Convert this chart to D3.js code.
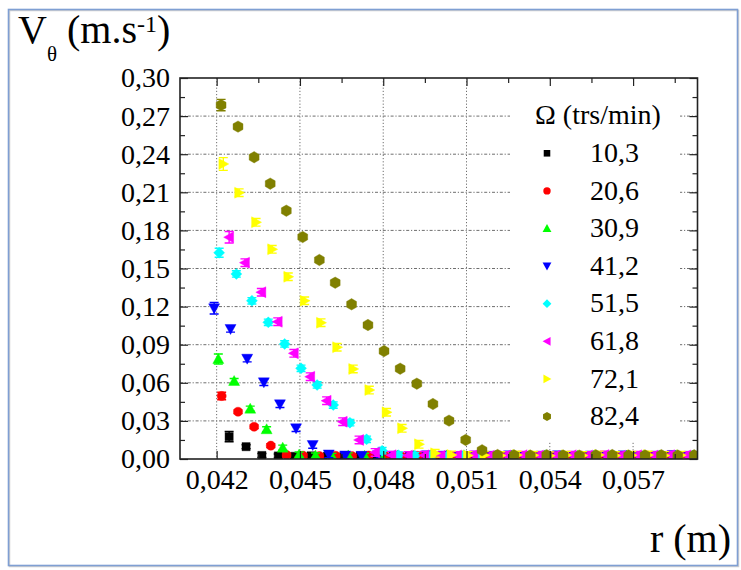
<!DOCTYPE html>
<html>
<head>
<meta charset="utf-8">
<script src="https://cdn.jsdelivr.net/npm/d3@7"></script>
<style>
  html, body { margin: 0; padding: 0; background: #ffffff; }
  svg { display: block; }
</style>
</head>
<body>
<svg id="chart" width="741" height="570"></svg>
<script>
// ---------------- DATA ----------------
const seriesLabels = ["10,3", "20,6", "30,9", "41,2", "51,5", "61,8", "72,1", "82,4"];
const seriesColors = ["#000000", "#ff0000", "#00ff00", "#0000ff", "#00ffff", "#ff00ff", "#ffff00", "#808000"];
const seriesShapes = ["square", "circle", "triangleUp", "triangleDown", "diamond", "triangleLeft", "triangleRight", "hexagon"];

const r_10_3 = [0.04245, 0.04306, 0.04363, 0.04422, 0.04481, 0.04540, 0.04599, 0.04658, 0.04717, 0.04776, 0.04835, 0.04894, 0.04953, 0.05012, 0.05071, 0.05130, 0.05189, 0.05248, 0.05307, 0.05366, 0.05425, 0.05484, 0.05543, 0.05602, 0.05661, 0.05720, 0.05779, 0.05838, 0.05897];
const v_10_3 = [0.0176, 0.0097, 0.0028, 0.0024, 0.0021, 0.0025, 0.0022, 0.0020, 0.0024, 0.0023, 0.0021, 0.0025, 0.0022, 0.0024, 0.0020, 0.0023, 0.0025, 0.0021, 0.0022, 0.0024, 0.0023, 0.0020, 0.0025, 0.0022, 0.0021, 0.0024, 0.0023, 0.0022, 0.0024];

const r_20_6 = [0.04218, 0.04277, 0.04335, 0.04395, 0.04452, 0.04511, 0.04570, 0.04629, 0.04688, 0.04747, 0.04806, 0.04865, 0.04924, 0.04983, 0.05042, 0.05101, 0.05160, 0.05219, 0.05278, 0.05337, 0.05396, 0.05455, 0.05514, 0.05573, 0.05632, 0.05691, 0.05750, 0.05809, 0.05868];
const v_20_6 = [0.0496, 0.0372, 0.0254, 0.0105, 0.0031, 0.0026, 0.0023, 0.0025, 0.0022, 0.0027, 0.0024, 0.0021, 0.0025, 0.0023, 0.0026, 0.0022, 0.0024, 0.0027, 0.0023, 0.0025, 0.0021, 0.0024, 0.0026, 0.0022, 0.0025, 0.0023, 0.0027, 0.0024, 0.0022];

const r_30_9 = [0.04206, 0.04263, 0.04321, 0.04380, 0.04438, 0.04497, 0.04556, 0.04615, 0.04674, 0.04733, 0.04792, 0.04851, 0.04910, 0.04969, 0.05028, 0.05087, 0.05146, 0.05205, 0.05264, 0.05323, 0.05382, 0.05441, 0.05500, 0.05559, 0.05618, 0.05677, 0.05736, 0.05795, 0.05854, 0.05913];
const v_30_9 = [0.0787, 0.0614, 0.0396, 0.0234, 0.0089, 0.0035, 0.0027, 0.0024, 0.0028, 0.0025, 0.0023, 0.0027, 0.0026, 0.0024, 0.0028, 0.0022, 0.0026, 0.0025, 0.0027, 0.0023, 0.0028, 0.0024, 0.0026, 0.0025, 0.0022, 0.0027, 0.0025, 0.0028, 0.0024, 0.0026];

const r_41_2 = [0.04191, 0.04250, 0.04310, 0.04370, 0.04428, 0.04486, 0.04546, 0.04604, 0.04663, 0.04722, 0.04781, 0.04840, 0.04899, 0.04958, 0.05017, 0.05076, 0.05135, 0.05194, 0.05253, 0.05312, 0.05371, 0.05430, 0.05489, 0.05548, 0.05607, 0.05666, 0.05725, 0.05784, 0.05843, 0.05902];
const v_41_2 = [0.1187, 0.1024, 0.0790, 0.0604, 0.0431, 0.0242, 0.0110, 0.0036, 0.0028, 0.0025, 0.0029, 0.0026, 0.0024, 0.0030, 0.0027, 0.0025, 0.0028, 0.0026, 0.0029, 0.0024, 0.0027, 0.0030, 0.0025, 0.0028, 0.0026, 0.0029, 0.0024, 0.0027, 0.0032, 0.0026];

const r_51_5 = [0.04209, 0.04271, 0.04327, 0.04386, 0.04445, 0.04504, 0.04562, 0.04620, 0.04680, 0.04740, 0.04796, 0.04855, 0.04914, 0.04973, 0.05032, 0.05091, 0.05150, 0.05209, 0.05268, 0.05327, 0.05386, 0.05445, 0.05504, 0.05563, 0.05622, 0.05681, 0.05740, 0.05799, 0.05858, 0.05917];
const v_51_5 = [0.1624, 0.1457, 0.1246, 0.1076, 0.0906, 0.0714, 0.0583, 0.0425, 0.0286, 0.0155, 0.0065, 0.0030, 0.0026, 0.0028, 0.0025, 0.0029, 0.0027, 0.0024, 0.0028, 0.0026, 0.0030, 0.0025, 0.0027, 0.0029, 0.0026, 0.0028, 0.0024, 0.0027, 0.0029, 0.0026];

const r_61_8 = [0.04245, 0.04302, 0.04361, 0.04420, 0.04478, 0.04537, 0.04596, 0.04654, 0.04713, 0.04771, 0.04830, 0.04889, 0.04948, 0.05007, 0.05066, 0.05125, 0.05184, 0.05243, 0.05302, 0.05361, 0.05420, 0.05479, 0.05538, 0.05597, 0.05656, 0.05715, 0.05774, 0.05833, 0.05892];
const v_61_8 = [0.1746, 0.1546, 0.1313, 0.1081, 0.0832, 0.0648, 0.0459, 0.0294, 0.0150, 0.0052, 0.0030, 0.0027, 0.0029, 0.0025, 0.0028, 0.0031, 0.0026, 0.0028, 0.0030, 0.0027, 0.0025, 0.0029, 0.0028, 0.0031, 0.0026, 0.0029, 0.0027, 0.0030, 0.0028];

const r_72_1 = [0.04224, 0.04281, 0.04342, 0.04400, 0.04458, 0.04517, 0.04576, 0.04634, 0.04692, 0.04750, 0.04812, 0.04868, 0.04929, 0.04987, 0.05046, 0.05105, 0.05164, 0.05223, 0.05282, 0.05341, 0.05400, 0.05459, 0.05518, 0.05577, 0.05636, 0.05695, 0.05754, 0.05813, 0.05872];
const v_72_1 = [0.2323, 0.2097, 0.1864, 0.1651, 0.1435, 0.1246, 0.1073, 0.0880, 0.0709, 0.0543, 0.0368, 0.0242, 0.0116, 0.0045, 0.0032, 0.0028, 0.0030, 0.0027, 0.0031, 0.0029, 0.0026, 0.0030, 0.0028, 0.0032, 0.0027, 0.0029, 0.0031, 0.0028, 0.0030];

const r_82_4 = [0.04216, 0.04277, 0.04335, 0.04393, 0.04451, 0.04510, 0.04570, 0.04627, 0.04686, 0.04745, 0.04803, 0.04861, 0.04921, 0.04979, 0.05037, 0.05097, 0.05156, 0.05212, 0.05271, 0.05330, 0.05389, 0.05448, 0.05507, 0.05566, 0.05625, 0.05684, 0.05743, 0.05802, 0.05861, 0.05920];
const v_82_4 = [0.2787, 0.2617, 0.2376, 0.2168, 0.1955, 0.1748, 0.1567, 0.1388, 0.1218, 0.1055, 0.0850, 0.0711, 0.0593, 0.0433, 0.0302, 0.0150, 0.0069, 0.0031, 0.0029, 0.0027, 0.0030, 0.0028, 0.0026, 0.0029, 0.0031, 0.0027, 0.0028, 0.0030, 0.0027, 0.0029];

// error bars: first (inner-most) point and the remaining points
const errFirst = [0.0040, 0.0030, 0.0040, 0.0045, 0.0035, 0.0045, 0.0050, 0.0045];
const errRest  = [0.0015, 0.0015, 0.0020, 0.0025, 0.0025, 0.0030, 0.0030, 0.0015];

const xTickValues = [0.042, 0.045, 0.048, 0.051, 0.054, 0.057];
const xMinorValues = [0.0435, 0.0465, 0.0495, 0.0525, 0.0555, 0.0585];
const yTickValues = [0.00, 0.03, 0.06, 0.09, 0.12, 0.15, 0.18, 0.21, 0.24, 0.27, 0.30];
const yMinorValues = [0.015, 0.045, 0.075, 0.105, 0.135, 0.165, 0.195, 0.225, 0.255, 0.285];

const legendTitle = "Ω (trs/min)";
const xAxisTitle = "r (m)";

const rArrays = [r_10_3, r_20_6, r_30_9, r_41_2, r_51_5, r_61_8, r_72_1, r_82_4];
const vArrays = [v_10_3, v_20_6, v_30_9, v_41_2, v_51_5, v_61_8, v_72_1, v_82_4];

// ---------------- LAYOUT ----------------
const FONT = "'Liberation Serif'";
const plot = { left: 180, right: 697.5, top: 78, bottom: 459 };

const svg = d3.select("#chart");

const x = d3.scaleLinear().domain([0.04068, 0.05932]).range([plot.left, plot.right]);
const y = d3.scaleLinear().domain([0, 0.30]).range([plot.bottom, plot.top]);

const commaFmt = f => d => d3.format(f)(d).replace(".", ",");

// outer frame (document border)
svg.append("rect").attr("x", 9.5).attr("y", 10.5).attr("width", 729).attr("height", 556)
  .attr("fill", "none").attr("stroke", "#d0d0d0").attr("stroke-width", 1.5);
svg.append("rect").attr("x", 8.5).attr("y", 9.5).attr("width", 729).attr("height", 556)
  .attr("fill", "none").attr("stroke", "#7f9fd3").attr("stroke-width", 1.6);

// clip
svg.append("defs").append("clipPath").attr("id", "plotClip")
  .append("rect").attr("x", plot.left).attr("y", plot.top)
  .attr("width", plot.right - plot.left).attr("height", plot.bottom - plot.top);

// grid
const grid = svg.append("g");
grid.selectAll("line.vg").data(xTickValues).join("line")
  .attr("x1", d => x(d)).attr("x2", d => x(d))
  .attr("y1", plot.top).attr("y2", plot.bottom)
  .attr("stroke", "#6e6e6e").attr("stroke-width", 1).attr("stroke-dasharray", "1.2,2");
grid.selectAll("line.hg").data(yTickValues.filter(d => d > 0 && d < 0.3)).join("line")
  .attr("x1", plot.left).attr("x2", plot.right)
  .attr("y1", d => y(d)).attr("y2", d => y(d))
  .attr("stroke", "#6e6e6e").attr("stroke-width", 1).attr("stroke-dasharray", "3,1.8,1.2,1.8");

// legend background
svg.append("rect").attr("x", 510).attr("y", 80).attr("width", 170).attr("height", 361).attr("fill", "#ffffff");

// symbol paths
function shapePath(type, s) {
  const h = s / 2;
  switch (type) {
    case "square": return `M${-h},${-h}H${h}V${h}H${-h}Z`;
    case "circle": return `M${h},0A${h},${h} 0 1,1 ${-h},0A${h},${h} 0 1,1 ${h},0Z`;
    case "triangleUp": return `M0,${-h * 1.05}L${h * 1.05},${h * 0.85}L${-h * 1.05},${h * 0.85}Z`;
    case "triangleDown": return `M0,${h * 1.05}L${h * 1.05},${-h * 0.85}L${-h * 1.05},${-h * 0.85}Z`;
    case "triangleLeft": return `M${-h * 1.05},0L${h * 0.85},${-h * 1.05}L${h * 0.85},${h * 1.05}Z`;
    case "triangleRight": return `M${h * 1.05},0L${-h * 0.85},${-h * 1.05}L${-h * 0.85},${h * 1.05}Z`;
    case "diamond": return `M0,${-h * 1.1}L${h * 1.1},0L0,${h * 1.1}L${-h * 1.1},0Z`;
    case "hexagon": {
      const pts = d3.range(6).map(i => {
        const a = Math.PI / 3 * i - Math.PI / 2;
        return [h * 1.1 * Math.cos(a), h * 1.1 * Math.sin(a)];
      });
      return "M" + pts.map(p => p.join(",")).join("L") + "Z";
    }
  }
}
const markerSize = [8.2, 9.2, 10.5, 10.5, 10, 10.5, 10.5, 10.4];

// points
const pts = svg.append("g").attr("clip-path", "url(#plotClip)");
seriesLabels.forEach((lab, si) => {
  const data = rArrays[si].map((r, i) => ({ r, v: vArrays[si][i], e: i === 0 ? errFirst[si] : errRest[si] }));
  const g = pts.append("g");
  const col = seriesColors[si];
  g.selectAll("path.err").data(data).join("path")
    .attr("d", d => {
      const cx = x(d.r), y1 = y(d.v + d.e), y2 = y(d.v - d.e);
      return `M${cx},${y1}V${y2}M${cx - 4.5},${y1}H${cx + 4.5}M${cx - 4.5},${y2}H${cx + 4.5}`;
    })
    .attr("stroke", col).attr("stroke-width", 1.4).attr("fill", "none");
  g.selectAll("path.mk").data(data).join("path")
    .attr("transform", d => `translate(${x(d.r)},${y(d.v)})`)
    .attr("d", shapePath(seriesShapes[si], markerSize[si]))
    .attr("fill", col).attr("stroke", col).attr("stroke-width", 0.8).attr("stroke-opacity", 0.5);
});

// axes
const fontSize = 28;
svg.append("g").attr("transform", `translate(${plot.left},0)`)
  .call(d3.axisLeft(y).tickValues(yTickValues).tickFormat(commaFmt(".2f")).tickSizeInner(-8).tickSizeOuter(0).tickPadding(10));
svg.append("g").attr("transform", `translate(0,${plot.bottom})`)
  .call(d3.axisBottom(x).tickValues(xTickValues).tickFormat(commaFmt(".3f")).tickSizeInner(-8).tickSizeOuter(0).tickPadding(10));
svg.append("g").attr("transform", `translate(${plot.right},0)`)
  .call(d3.axisRight(y).tickValues(yTickValues).tickFormat("").tickSizeInner(-8).tickSizeOuter(0));
svg.append("g").attr("transform", `translate(0,${plot.top})`)
  .call(d3.axisTop(x).tickValues(xTickValues).tickFormat("").tickSizeInner(-8).tickSizeOuter(0));
// minor ticks
svg.append("g").attr("transform", `translate(${plot.left},0)`)
  .call(d3.axisLeft(y).tickValues(yMinorValues).tickFormat("").tickSizeInner(-5).tickSizeOuter(0));
svg.append("g").attr("transform", `translate(${plot.right},0)`)
  .call(d3.axisRight(y).tickValues(yMinorValues).tickFormat("").tickSizeInner(-5).tickSizeOuter(0));
svg.append("g").attr("transform", `translate(0,${plot.bottom})`)
  .call(d3.axisBottom(x).tickValues(xMinorValues).tickFormat("").tickSizeInner(-5).tickSizeOuter(0));
svg.append("g").attr("transform", `translate(0,${plot.top})`)
  .call(d3.axisTop(x).tickValues(xMinorValues).tickFormat("").tickSizeInner(-5).tickSizeOuter(0));

svg.selectAll(".domain").remove();
svg.selectAll(".tick line").attr("stroke", "#222").attr("stroke-width", 1.2);
svg.selectAll(".tick text").attr("font-size", fontSize).style("font-family", FONT).attr("fill", "#000");

// plot frame
svg.append("rect").attr("x", plot.left).attr("y", plot.top)
  .attr("width", plot.right - plot.left).attr("height", plot.bottom - plot.top)
  .attr("fill", "none").attr("stroke", "#222").attr("stroke-width", 1.6);

// Y axis title: V_θ (m.s^-1)
const yt = svg.append("text").attr("x", 18).attr("y", 43).attr("font-size", 40).style("font-family", FONT);
yt.append("tspan").text("V");
yt.append("tspan").attr("font-size", 21).attr("dy", 18).text("θ");
yt.append("tspan").attr("dy", -18).text(" (m.s");
yt.append("tspan").attr("font-size", 24).attr("dy", -11).text("-1");
yt.append("tspan").attr("dy", 11).text(")");

// X axis title
svg.append("text").attr("x", 731).attr("y", 552).attr("text-anchor", "end").attr("font-size", 40).style("font-family", FONT).text(xAxisTitle);

// legend
const lg = svg.append("g");
lg.append("text").attr("x", 535).attr("y", 124).attr("font-size", 28).style("font-family", FONT).text(legendTitle);
seriesLabels.forEach((lab, i) => {
  const cy = 153.3 + i * 37.6;
  lg.append("path").attr("transform", `translate(547,${cy})`)
    .attr("d", shapePath(seriesShapes[i], markerSize[i] * 0.8))
    .attr("fill", seriesColors[i]);
  lg.append("text").attr("x", 590).attr("y", cy + 8.7).attr("font-size", 28).style("font-family", FONT).text(lab);
});
</script>
</body>
</html>
